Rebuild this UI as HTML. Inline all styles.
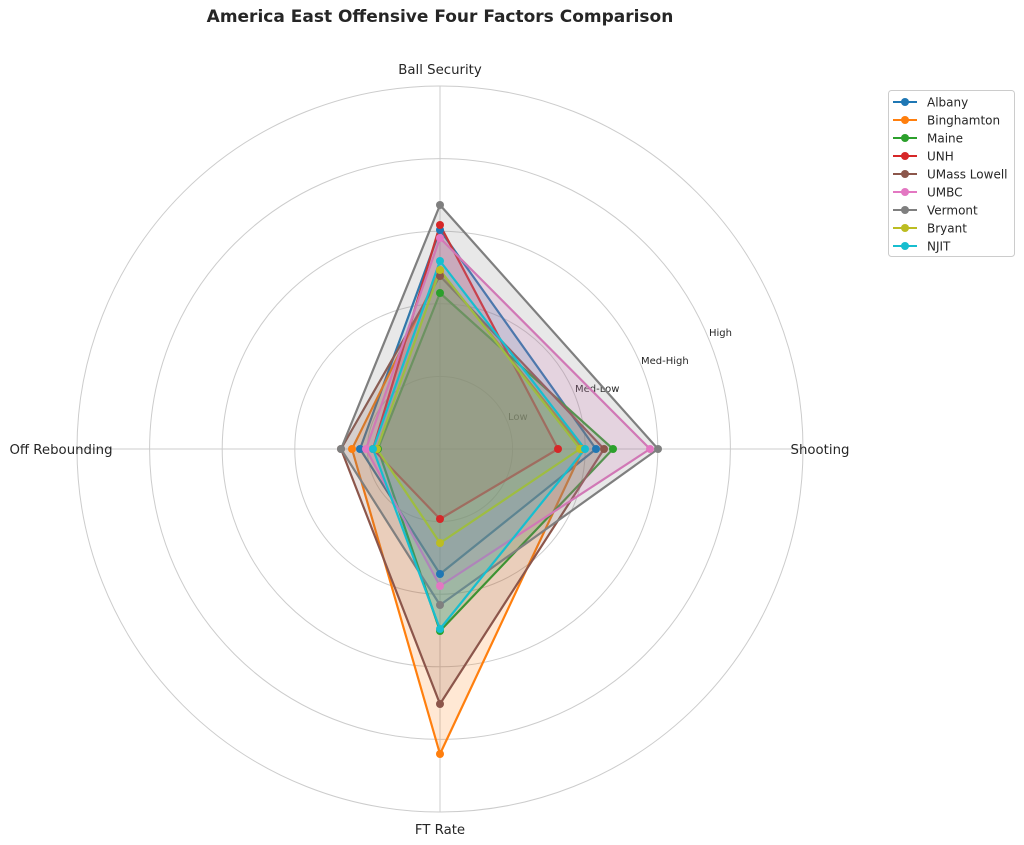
<!DOCTYPE html>
<html><head><meta charset="utf-8"><style>body{margin:0;background:#fff}svg{display:block;font-family:"DejaVu Sans","Liberation Sans",sans-serif}</style></head><body>
<svg width="1024" height="845" viewBox="0 0 1024 845">
<rect width="1024" height="845" fill="#fff"/>
<text x="440" y="22" text-anchor="middle" font-size="17" font-weight="bold" fill="#262626">America East Offensive Four Factors Comparison</text>
<g fill="none" stroke="#cccccc" stroke-width="1">
<circle cx="440" cy="449" r="72.6"/><circle cx="440" cy="449" r="145.2"/><circle cx="440" cy="449" r="217.8"/><circle cx="440" cy="449" r="290.4"/><circle cx="440" cy="449" r="363"/>
<line x1="440" y1="86" x2="440" y2="812"/><line x1="77" y1="449" x2="803" y2="449"/>
</g>
<g font-size="13.3" fill="#262626">
<text x="440" y="74" text-anchor="middle">Ball Security</text>
<text x="820" y="454" text-anchor="middle">Shooting</text>
<text x="440" y="834" text-anchor="middle">FT Rate</text>
<text x="61" y="454" text-anchor="middle">Off Rebounding</text>
</g>
<g font-size="10" fill="#262626">
<text x="508" y="420">Low</text><text x="575" y="392">Med-Low</text><text x="641" y="364">Med-High</text><text x="709" y="336">High</text>
</g>
<g stroke-width="2.2" stroke-linejoin="round">
<polygon points="440,230 596,449 440,574 360,449" fill="#1f77b4" fill-opacity="0.18" stroke="#1f77b4"/>
<polygon points="440,271 583,449 440,754 352,449" fill="#ff7f0e" fill-opacity="0.18" stroke="#ff7f0e"/>
<polygon points="440,293 613,449 440,631 378,449" fill="#2ca02c" fill-opacity="0.18" stroke="#2ca02c"/>
<polygon points="440,225 558,449 440,519 373,449" fill="#d62728" fill-opacity="0.18" stroke="#d62728"/>
<polygon points="440,276 604,449 440,704 341,449" fill="#8c564b" fill-opacity="0.18" stroke="#8c564b"/>
<polygon points="440,238 650,449 440,586 366,449" fill="#e377c2" fill-opacity="0.18" stroke="#e377c2"/>
<polygon points="440,205 658,449 440,605 341,449" fill="#7f7f7f" fill-opacity="0.18" stroke="#7f7f7f"/>
<polygon points="440,270 580,449 440,543 377,449" fill="#bcbd22" fill-opacity="0.18" stroke="#bcbd22"/>
<polygon points="440,261 585,449 440,629 373,449" fill="#17becf" fill-opacity="0.18" stroke="#17becf"/>
</g>
<g>
<g fill="#1f77b4"><circle cx="440" cy="230" r="4"/><circle cx="596" cy="449" r="4"/><circle cx="440" cy="574" r="4"/><circle cx="360" cy="449" r="4"/></g>
<g fill="#ff7f0e"><circle cx="440" cy="271" r="4"/><circle cx="583" cy="449" r="4"/><circle cx="440" cy="754" r="4"/><circle cx="352" cy="449" r="4"/></g>
<g fill="#2ca02c"><circle cx="440" cy="293" r="4"/><circle cx="613" cy="449" r="4"/><circle cx="440" cy="631" r="4"/><circle cx="378" cy="449" r="4"/></g>
<g fill="#d62728"><circle cx="440" cy="225" r="4"/><circle cx="558" cy="449" r="4"/><circle cx="440" cy="519" r="4"/><circle cx="373" cy="449" r="4"/></g>
<g fill="#8c564b"><circle cx="440" cy="276" r="4"/><circle cx="604" cy="449" r="4"/><circle cx="440" cy="704" r="4"/><circle cx="341" cy="449" r="4"/></g>
<g fill="#e377c2"><circle cx="440" cy="238" r="4"/><circle cx="650" cy="449" r="4"/><circle cx="440" cy="586" r="4"/><circle cx="366" cy="449" r="4"/></g>
<g fill="#7f7f7f"><circle cx="440" cy="205" r="4"/><circle cx="658" cy="449" r="4"/><circle cx="440" cy="605" r="4"/><circle cx="341" cy="449" r="4"/></g>
<g fill="#bcbd22"><circle cx="440" cy="270" r="4"/><circle cx="580" cy="449" r="4"/><circle cx="440" cy="543" r="4"/><circle cx="377" cy="449" r="4"/></g>
<g fill="#17becf"><circle cx="440" cy="261" r="4"/><circle cx="585" cy="449" r="4"/><circle cx="440" cy="629" r="4"/><circle cx="373" cy="449" r="4"/></g>
</g>
<rect x="888.5" y="90.5" width="126" height="166" rx="3" fill="#fff" stroke="#ccc"/>
<g font-size="12" fill="#262626" stroke-width="2">
<g transform="translate(0,102)"><line x1="893" x2="917" stroke="#1f77b4"/><circle cx="905" r="4" fill="#1f77b4"/><text x="927" y="4.5">Albany</text></g>
<g transform="translate(0,120)"><line x1="893" x2="917" stroke="#ff7f0e"/><circle cx="905" r="4" fill="#ff7f0e"/><text x="927" y="4.5">Binghamton</text></g>
<g transform="translate(0,138)"><line x1="893" x2="917" stroke="#2ca02c"/><circle cx="905" r="4" fill="#2ca02c"/><text x="927" y="4.5">Maine</text></g>
<g transform="translate(0,156)"><line x1="893" x2="917" stroke="#d62728"/><circle cx="905" r="4" fill="#d62728"/><text x="927" y="4.5">UNH</text></g>
<g transform="translate(0,174)"><line x1="893" x2="917" stroke="#8c564b"/><circle cx="905" r="4" fill="#8c564b"/><text x="927" y="4.5">UMass Lowell</text></g>
<g transform="translate(0,192)"><line x1="893" x2="917" stroke="#e377c2"/><circle cx="905" r="4" fill="#e377c2"/><text x="927" y="4.5">UMBC</text></g>
<g transform="translate(0,210)"><line x1="893" x2="917" stroke="#7f7f7f"/><circle cx="905" r="4" fill="#7f7f7f"/><text x="927" y="4.5">Vermont</text></g>
<g transform="translate(0,228)"><line x1="893" x2="917" stroke="#bcbd22"/><circle cx="905" r="4" fill="#bcbd22"/><text x="927" y="4.5">Bryant</text></g>
<g transform="translate(0,246)"><line x1="893" x2="917" stroke="#17becf"/><circle cx="905" r="4" fill="#17becf"/><text x="927" y="4.5">NJIT</text></g>
</g>
</svg>
</body></html>
